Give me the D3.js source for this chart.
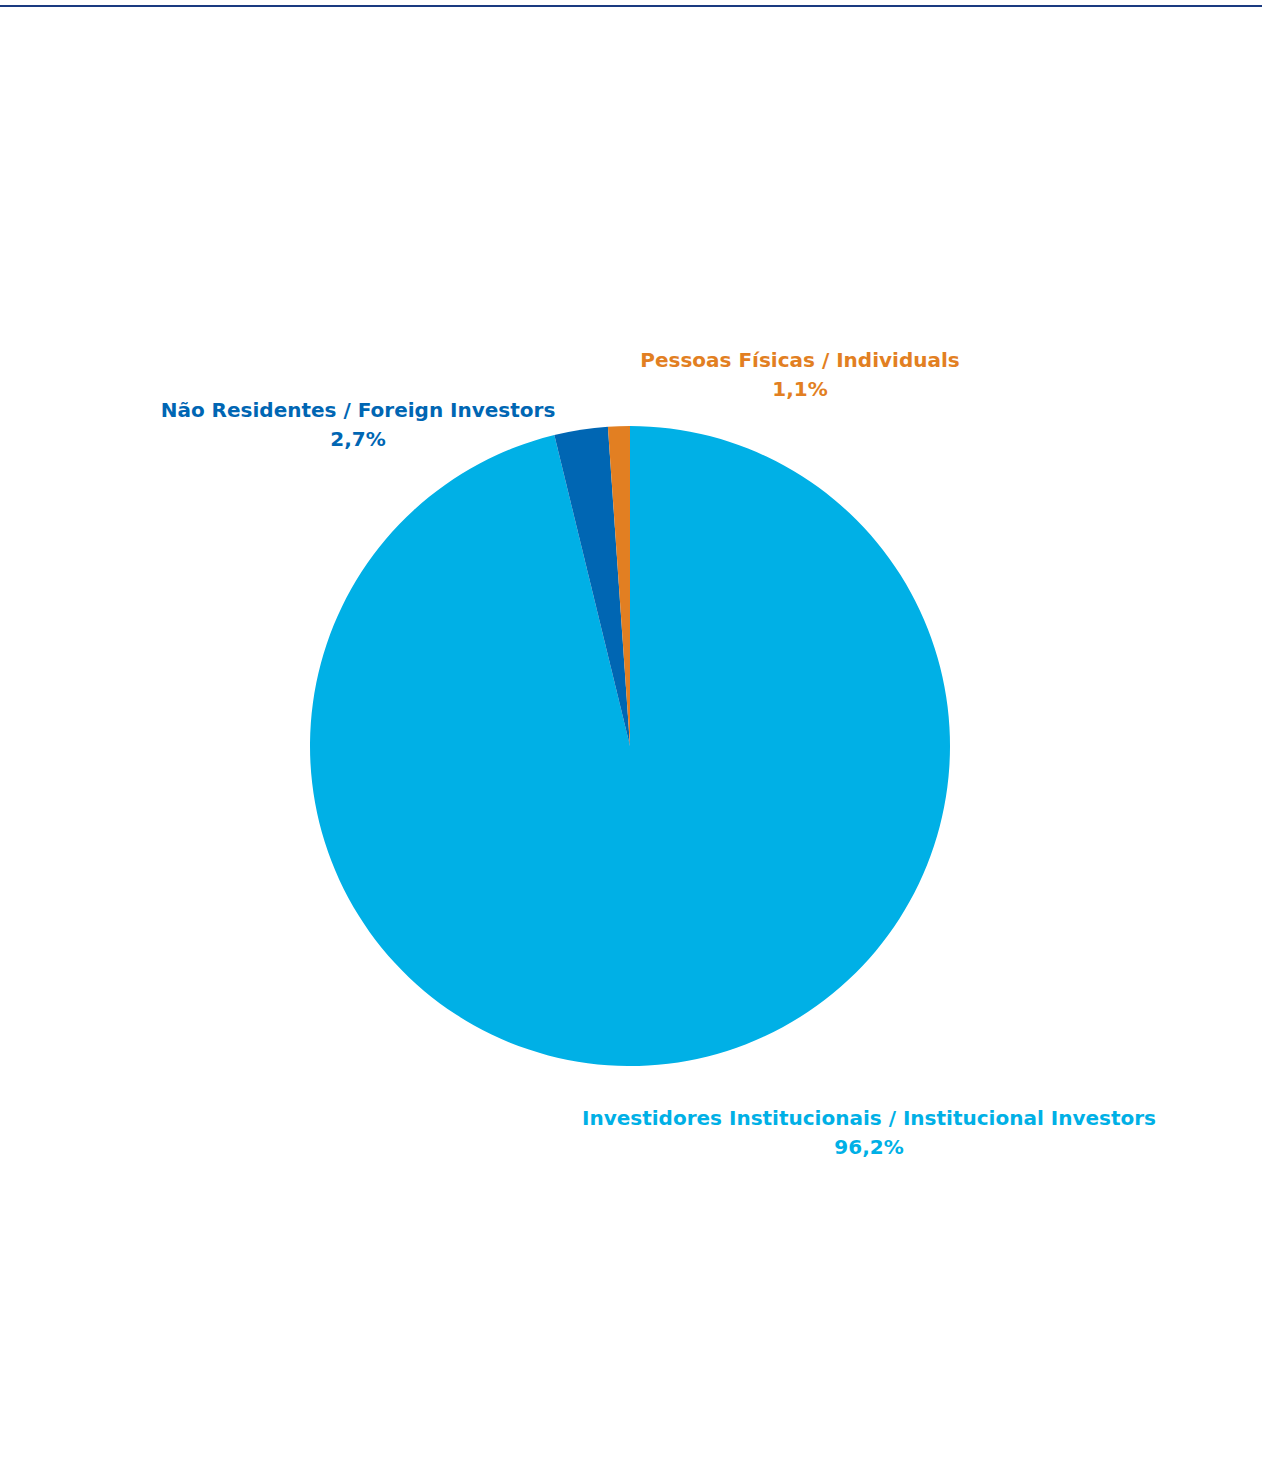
<!DOCTYPE html>
<html><head><meta charset="utf-8">
<script src="https://cdn.jsdelivr.net/npm/d3@7"></script>
<style>body{margin:0;background:#fff}svg{display:block}</style>
</head><body>
<script>
const categories = ["Investidores Institucionais / Institucional Investors", "Não Residentes / Foreign Investors", "Pessoas Físicas / Individuals"];
const values = [96.2, 2.7, 1.1];
const valueLabels = ["96,2%", "2,7%", "1,1%"];
const colors = ["#00b0e6", "#0066b3", "#e27f22"];

const W = 1262, H = 1481;
const svg = d3.select("body").append("svg").attr("width", W).attr("height", H);
svg.append("line").attr("x1", 0).attr("x2", W).attr("y1", 6).attr("y2", 6)
  .attr("stroke", "#1a3a80").attr("stroke-width", 1.8);

const cx = 630, cy = 746, R = 320;
const pie = d3.pie().sort(null).value(d => d);
const arcs = pie(values);
const arc = d3.arc().innerRadius(0).outerRadius(R);
const g = svg.append("g").attr("transform", `translate(${cx},${cy})`);
g.selectAll("path").data(arcs).join("path").attr("d", arc).attr("fill", (d, i) => colors[i]);

const labelPos = [[869, 1125], [358, 417], [800, 367]];
const lg = svg.append("g").attr("font-family", "'DejaVu Sans', sans-serif").attr("font-weight", "bold").attr("font-size", 20).attr("text-anchor", "middle");
categories.forEach((c, i) => {
  const t = lg.append("text").attr("fill", colors[i]);
  t.append("tspan").attr("x", labelPos[i][0]).attr("y", labelPos[i][1]).text(c);
  t.append("tspan").attr("x", labelPos[i][0]).attr("y", labelPos[i][1] + 29).text(valueLabels[i]);
});
</script>
</body></html>
